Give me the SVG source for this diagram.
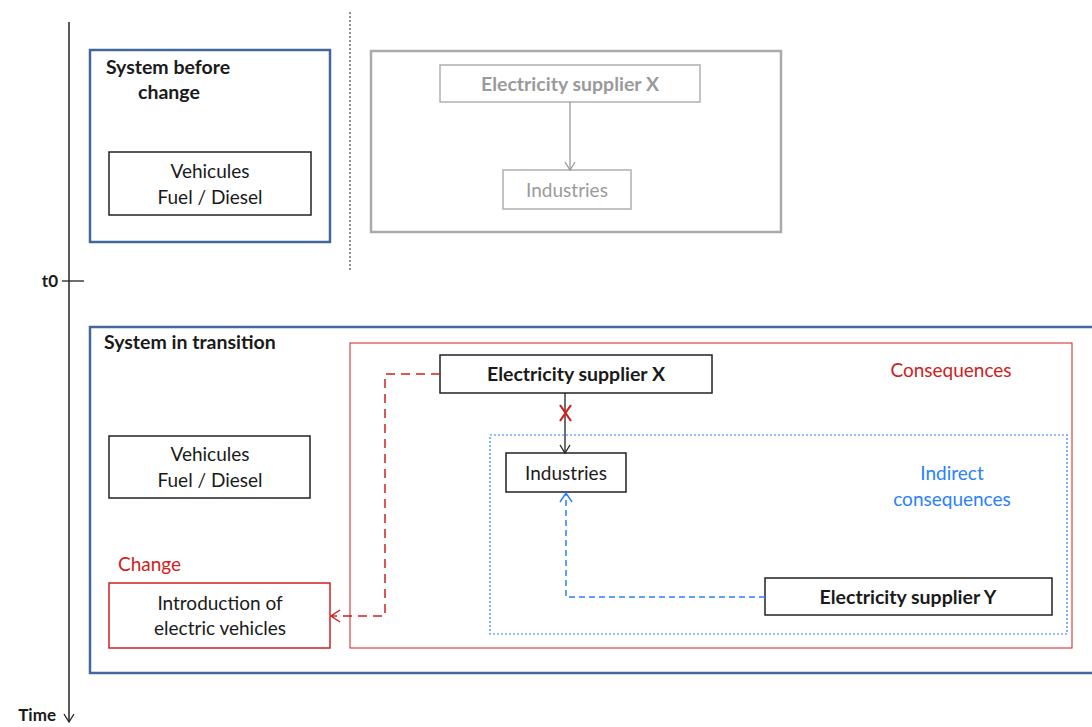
<svg xmlns="http://www.w3.org/2000/svg" width="1092" height="727" viewBox="0 0 1092 727">
<defs>
<style>
text{font-family:"Lato","Liberation Sans",sans-serif;font-size:19px;fill:#1a1a1a}
.b{font-weight:bold;font-size:19.5px}
.c{text-anchor:middle}
.e{text-anchor:end}
.g{fill:#9a9a9a}
.r{fill:#d02020}
.bl{fill:#2a7fff}
.box{fill:#fff;stroke:#222;stroke-width:1.5}
.sys{fill:none;stroke:#43679a;stroke-width:2.5}
</style>
<marker id="ak" markerWidth="12" markerHeight="12" refX="10" refY="6" orient="auto" markerUnits="userSpaceOnUse"><path d="M2,1 L10,6 L2,11" fill="none" stroke="#222" stroke-width="1.3"/></marker>
<marker id="ag" markerWidth="12" markerHeight="12" refX="10" refY="6" orient="auto" markerUnits="userSpaceOnUse"><path d="M2,1 L10,6 L2,11" fill="none" stroke="#9a9a9a" stroke-width="1.3"/></marker>
<marker id="ar" markerWidth="14" markerHeight="14" refX="11" refY="7" orient="auto" markerUnits="userSpaceOnUse"><path d="M2,1 L11,7 L2,13" fill="none" stroke="#d02020" stroke-width="1.5"/></marker>
<marker id="ab" markerWidth="14" markerHeight="14" refX="11" refY="7" orient="auto" markerUnits="userSpaceOnUse"><path d="M2,1 L11,7 L2,13" fill="none" stroke="#2a7fff" stroke-width="1.5"/></marker>
</defs>
<rect width="1092" height="727" fill="#fff"/>

<g id="timeline">
<line x1="69" y1="22" x2="69" y2="722" stroke="#222" stroke-width="1.5" marker-end="url(#ak)"/>
<line x1="62" y1="281" x2="84" y2="281" stroke="#222" stroke-width="1.3"/>
<text x="58" y="287" class="b e" style="font-size:17px">t0</text>
<text x="56" y="721" class="b e" style="font-size:17px">Time</text>
</g>

<line x1="350" y1="12" x2="350" y2="270" stroke="#222" stroke-width="1" stroke-dasharray="2,2"/>

<g id="system-before">
<rect x="90" y="50" width="240" height="192" class="sys"/>
<text x="168" y="74" class="b c">System before</text>
<text x="169" y="99" class="b c">change</text>
</g>
<g id="vehicules-before">
<rect x="109" y="152" width="202" height="63" class="box"/>
<text x="210" y="178" class="c">Vehicules</text>
<text x="210" y="204" class="c">Fuel / Diesel</text>
</g>

<g id="before-consequences">
<rect x="371" y="51" width="410" height="181" fill="none" stroke="#aaa" stroke-width="2.5"/>
</g>
<g id="supplier-x-before">
<rect x="440" y="65" width="260" height="37" fill="#fff" stroke="#b0b0b0" stroke-width="1.5"/>
<text x="570" y="91" class="b c g">Electricity supplier X</text>
</g>
<g id="industries-before">
<rect x="503" y="170" width="128" height="39" fill="#fff" stroke="#b0b0b0" stroke-width="1.5"/>
<text x="567" y="197" class="c g">Industries</text>
</g>

<g id="system-transition">
<rect x="90" y="327" width="1010" height="346" class="sys"/>
<text x="104" y="349" class="b">System in transition</text>
</g>
<g id="consequences">
<rect x="350" y="343" width="722" height="305" fill="none" stroke="#d02020" stroke-width="1"/>
<text x="951" y="377" class="c r">Consequences</text>
</g>
<g id="indirect-consequences">
<rect x="490" y="435" width="577" height="199" fill="none" stroke="#2a7fff" stroke-width="1.2" stroke-dasharray="2,2"/>
<text x="952" y="480" class="c bl">Indirect</text>
<text x="952" y="506" class="c bl">consequences</text>
</g>
<g id="vehicules-transition">
<rect x="109" y="436" width="201" height="62" class="box"/>
<text x="210" y="461" class="c">Vehicules</text>
<text x="210" y="487" class="c">Fuel / Diesel</text>
</g>
<g id="change">
<text x="118" y="571" class="r">Change</text>
<rect x="109" y="583" width="221" height="65" fill="#fff" stroke="#d02020" stroke-width="1.5"/>
<text x="220" y="610" class="c">Introduction of</text>
<text x="220" y="635" class="c">electric vehicles</text>
</g>
<g id="supplier-x">
<rect x="440" y="355" width="272" height="38" class="box"/>
<text x="576" y="381" class="b c">Electricity supplier X</text>
</g>
<g id="industries">
<rect x="506" y="453" width="120" height="39" class="box"/>
<text x="566" y="480" class="c">Industries</text>
</g>
<g id="supplier-y">
<rect x="765" y="578" width="287" height="37" class="box"/>
<text x="908" y="604" class="b c">Electricity supplier Y</text>
</g>

<g id="connectors">
<line x1="570" y1="102" x2="570" y2="170" stroke="#9a9a9a" stroke-width="1.3" marker-end="url(#ag)"/>
<line x1="565" y1="393" x2="565" y2="453" stroke="#222" stroke-width="1.3" marker-end="url(#ak)"/>
<path d="M560,405 L571,421 M571,405 L560,421" stroke="#d02020" stroke-width="2.2" fill="none"/>
<path d="M440,374 H385 V616 H331" fill="none" stroke="#d02020" stroke-width="1.5" stroke-dasharray="9,6" marker-end="url(#ar)"/>
<path d="M765,597 H566 V493" fill="none" stroke="#2a7fff" stroke-width="1.5" stroke-dasharray="6,4" marker-end="url(#ab)"/>
</g>
</svg>
